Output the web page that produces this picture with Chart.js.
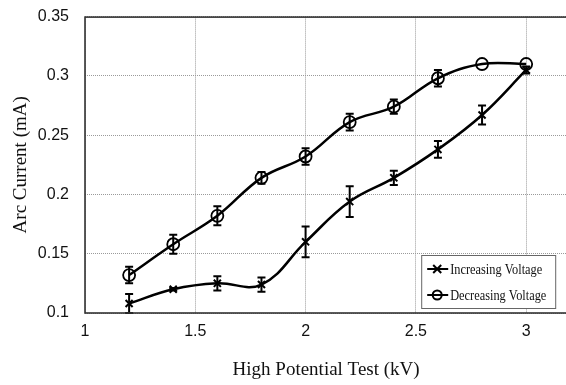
<!DOCTYPE html>
<html>
<head>
<meta charset="utf-8">
<script src="https://cdn.jsdelivr.net/npm/chart.js@4"></script>
<style>
  html, body { margin: 0; padding: 0; background: #fff; overflow: hidden; }
  #wrap { width: 566px; height: 385px; overflow: hidden; position: relative; }
  #chart { position: absolute; left: 0; top: -9px; }
</style>
</head>
<body>
<div id="wrap"><canvas id="chart" width="575" height="394"></canvas></div>
<script>
// values
const voltages = [1.2, 1.4, 1.6, 1.8, 2.0, 2.2, 2.4, 2.6, 2.8, 3.0];
const increasing = [0.108, 0.120, 0.125, 0.124, 0.160, 0.194, 0.214, 0.238, 0.267, 0.305];
const increasingErr = [0.008, 0.001, 0.006, 0.006, 0.013, 0.013, 0.006, 0.007, 0.008, 0.003];
const decreasing = [0.132, 0.158, 0.182, 0.214, 0.232, 0.261, 0.274, 0.298, 0.310, 0.310];
const decreasingErr = [0.007, 0.008, 0.008, 0.005, 0.007, 0.007, 0.006, 0.007, 0, 0];
const xTicks = [1, 1.5, 2, 2.5, 3];
const yTicks = [0.1, 0.15, 0.2, 0.25, 0.3, 0.35];

const toPoints = (ys, errs) => ys.map((y, i) => ({ x: voltages[i], y: y, err: errs[i] }));

// error bars with caps
const errorBars = {
  id: 'errorBars',
  afterDatasetsDraw(chart) {
    const { ctx, scales: { x, y } } = chart;
    ctx.save();
    ctx.strokeStyle = '#000';
    ctx.lineWidth = 2;
    chart.data.datasets.forEach(ds => {
      ds.data.forEach(p => {
        if (!p.err) return;
        const px = x.getPixelForValue(p.x);
        const top = y.getPixelForValue(p.y + p.err);
        const bot = y.getPixelForValue(p.y - p.err);
        ctx.beginPath();
        ctx.moveTo(px, top); ctx.lineTo(px, bot);
        ctx.moveTo(px - 4, top); ctx.lineTo(px + 4, top);
        ctx.moveTo(px - 4, bot); ctx.lineTo(px + 4, bot);
        ctx.stroke();
      });
    });
    ctx.restore();
  }
};

// frame + legend box inside the plot (box placed from the plot's bottom-right)
const frameAndLegend = {
  id: 'frameAndLegend',
  afterDraw(chart) {
    const { ctx, chartArea: a } = chart;
    ctx.save();
    ctx.strokeStyle = '#333';
    ctx.lineWidth = 1.6;
    ctx.strokeRect(a.left, a.top + 0.5, a.right - a.left + 4, a.bottom - a.top - 0.5);

    const bw = 134, bh = 53;
    const bx = a.right - 146, by = a.bottom - 58;
    ctx.fillStyle = '#fff';
    ctx.fillRect(bx, by, bw, bh);
    ctx.strokeStyle = '#666';
    ctx.lineWidth = 1;
    ctx.strokeRect(bx + 0.5, by + 0.5, bw, bh);

    const rows = [
      { label: 'Increasing Voltage', y: by + 14, marker: 'cross' },
      { label: 'Decreasing Voltage', y: by + 40, marker: 'circle' }
    ];
    rows.forEach(r => {
      ctx.strokeStyle = '#000';
      ctx.lineWidth = 2;
      ctx.beginPath();
      ctx.moveTo(bx + 6, r.y); ctx.lineTo(bx + 27, r.y);
      ctx.stroke();
      const cx = bx + 16;
      ctx.beginPath();
      if (r.marker === 'cross') {
        ctx.moveTo(cx - 4, r.y - 4); ctx.lineTo(cx + 4, r.y + 4);
        ctx.moveTo(cx - 4, r.y + 4); ctx.lineTo(cx + 4, r.y - 4);
      } else {
        ctx.arc(cx, r.y, 4.5, 0, Math.PI * 2);
      }
      ctx.stroke();
      ctx.fillStyle = '#111';
      ctx.font = '13px "Liberation Serif"';
      ctx.textBaseline = 'middle';
      ctx.save();
      ctx.translate(bx + 29, r.y + 1);
      ctx.scale(0.95, 1.15);
      ctx.fillText(r.label, 0, 0);
      ctx.restore();
    });
    ctx.restore();
  }
};

new Chart(document.getElementById('chart'), {
  type: 'line',
  data: {
    datasets: [
      {
        label: 'Increasing Voltage',
        data: toPoints(increasing, increasingErr),
        borderColor: '#000',
        backgroundColor: '#000',
        borderWidth: 2.5,
        tension: 0.4,
        pointStyle: 'crossRot',
        pointRadius: 5,
        pointBorderWidth: 2
      },
      {
        label: 'Decreasing Voltage',
        data: toPoints(decreasing, decreasingErr),
        borderColor: '#000',
        backgroundColor: 'rgba(0,0,0,0)',
        borderWidth: 2.5,
        tension: 0.4,
        pointStyle: 'circle',
        pointRadius: 6,
        pointBorderWidth: 1.8
      }
    ]
  },
  options: {
    responsive: false,
    animation: false,
    layout: { padding: { top: 6, right: -6, left: 0, bottom: 0 } },
    plugins: { legend: { display: false }, tooltip: { enabled: false } },
    scales: {
      x: {
        type: 'linear',
        min: 1,
        max: 3.186,
        afterBuildTicks: s => { s.ticks = xTicks.map(v => ({ value: v })); },
        afterFit: s => { s.height = 72; },
        grid: { color: '#9a9a9a', lineWidth: 1, tickLength: 0, drawTicks: false },
        border: { display: false, dash: [1, 1] },
        ticks: {
          color: '#111',
          padding: 9,
          font: { family: '"Liberation Sans"', size: 16 },
          callback: v => String(v)
        },
        title: {
          display: true,
          text: 'High Potential Test (kV)',
          color: '#111',
          font: { family: '"Liberation Serif"', size: 19 },
          padding: { top: 10, bottom: 4 }
        }
      },
      y: {
        min: 0.1,
        max: 0.35,
        afterBuildTicks: s => { s.ticks = yTicks.map(v => ({ value: v })); },
        afterFit: s => { s.width = 85; },
        grid: { color: '#9a9a9a', lineWidth: 1, drawTicks: false },
        border: { display: false, dash: [1, 1] },
        ticks: {
          color: '#111',
          padding: 16,
          font: { family: '"Liberation Sans"', size: 16 },
          callback: v => String(v)
        },
        title: {
          display: true,
          text: 'Arc Current (mA)',
          color: '#111',
          font: { family: '"Liberation Serif"', size: 19 },
          padding: { top: 10, bottom: 0 }
        }
      }
    }
  },
  plugins: [errorBars, frameAndLegend]
});
</script>
</body>
</html>
